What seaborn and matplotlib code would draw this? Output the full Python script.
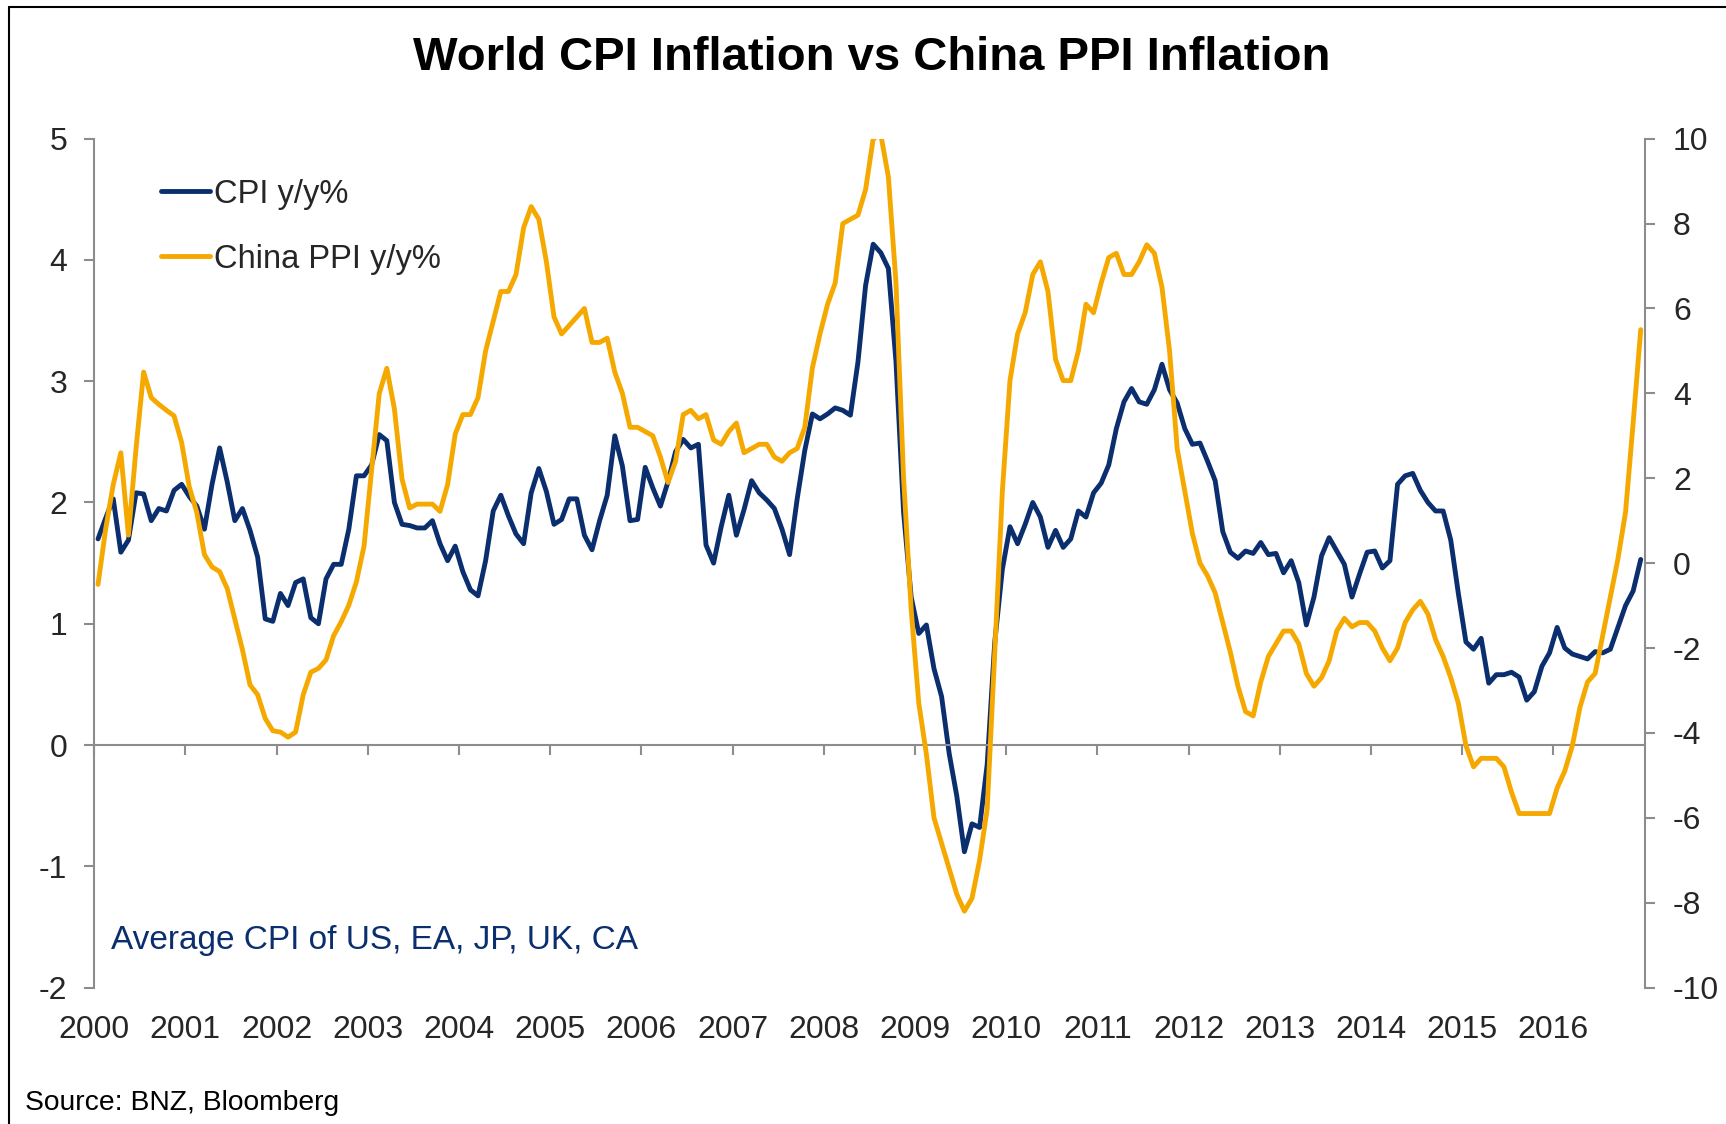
import numpy as np
import pandas as pd
import seaborn as sns
import matplotlib.pyplot as plt
from matplotlib.lines import Line2D

# monthly data, Jan 2000 - Dec 2016
years = [str(y) for y in range(2000, 2017)]

cpi = [
    1.70, 1.87, 2.03, 1.59, 1.69, 2.08, 2.07, 1.85, 1.95, 1.93, 2.10, 2.15,  # 2000
    2.05, 1.97, 1.78, 2.15, 2.45, 2.17, 1.85, 1.95, 1.77, 1.55, 1.04, 1.02,  # 2001
    1.25, 1.15, 1.34, 1.37, 1.05, 1.00, 1.37, 1.49, 1.49, 1.78, 2.22, 2.22,  # 2002
    2.31, 2.56, 2.51, 2.00, 1.82, 1.81, 1.79, 1.79, 1.85, 1.66, 1.52, 1.64,  # 2003
    1.43, 1.28, 1.23, 1.52, 1.93, 2.06, 1.89, 1.74, 1.66, 2.08, 2.28, 2.09,  # 2004
    1.82, 1.86, 2.03, 2.03, 1.73, 1.61, 1.85, 2.06, 2.55, 2.30, 1.85, 1.86,  # 2005
    2.29, 2.12, 1.97, 2.17, 2.42, 2.52, 2.45, 2.48, 1.65, 1.50, 1.80, 2.06,  # 2006
    1.73, 1.94, 2.18, 2.08, 2.02, 1.95, 1.78, 1.57, 2.03, 2.43, 2.73, 2.69,  # 2007
    2.73, 2.78, 2.76, 2.72, 3.16, 3.79, 4.13, 4.06, 3.93, 3.16, 1.92, 1.22,  # 2008
    0.92, 0.99, 0.63, 0.40, -0.07, -0.42, -0.88, -0.65, -0.68, -0.16, 0.85, 1.45,  # 2009
    1.80, 1.66, 1.82, 2.00, 1.88, 1.63, 1.77, 1.63, 1.70, 1.93, 1.88, 2.08,  # 2010
    2.16, 2.31, 2.61, 2.83, 2.94, 2.83, 2.81, 2.93, 3.14, 2.93, 2.82, 2.61,  # 2011
    2.48, 2.49, 2.34, 2.18, 1.76, 1.59, 1.54, 1.60, 1.58, 1.67, 1.57, 1.58,  # 2012
    1.42, 1.52, 1.34, 0.99, 1.22, 1.56, 1.71, 1.60, 1.49, 1.22, 1.41, 1.59,  # 2013
    1.60, 1.46, 1.52, 2.15, 2.22, 2.24, 2.10, 2.00, 1.93, 1.93, 1.69, 1.25,  # 2014
    0.85, 0.79, 0.88, 0.51, 0.58, 0.58, 0.60, 0.56, 0.37, 0.44, 0.65, 0.76,  # 2015
    0.97, 0.80, 0.75, 0.73, 0.71, 0.77, 0.76, 0.79, 0.97, 1.15, 1.27, 1.53,  # 2016
]

ppi = [
    -0.5, 0.8, 1.85, 2.6, 0.66, 2.7, 4.5, 3.9, 3.74, 3.6, 3.47, 2.84,  # 2000
    1.8, 1.19, 0.2, -0.09, -0.2, -0.6, -1.32, -2.04, -2.87, -3.1, -3.66, -3.95,  # 2001
    -3.98, -4.1, -3.98, -3.1, -2.57, -2.48, -2.28, -1.71, -1.38, -0.99, -0.44, 0.4,  # 2002
    2.2, 3.99, 4.59, 3.63, 1.98, 1.3, 1.39, 1.39, 1.39, 1.22, 1.85, 3.04,  # 2003
    3.5, 3.5, 3.9, 5.0, 5.7, 6.4, 6.4, 6.8, 7.9, 8.4, 8.1, 7.1,  # 2004
    5.8, 5.4, 5.6, 5.8, 6.0, 5.2, 5.2, 5.3, 4.5, 4.0, 3.2, 3.2,  # 2005
    3.1, 3.0, 2.5, 1.9, 2.4, 3.5, 3.6, 3.4, 3.5, 2.9, 2.8, 3.1,  # 2006
    3.3, 2.6, 2.7, 2.8, 2.8, 2.5, 2.4, 2.6, 2.7, 3.2, 4.6, 5.4,  # 2007
    6.1, 6.6, 8.0, 8.1, 8.2, 8.8, 10.0, 10.1, 9.1, 6.6, 2.0, -1.1,  # 2008
    -3.3, -4.5, -6.0, -6.6, -7.2, -7.8, -8.2, -7.9, -7.0, -5.8, -2.1, 1.7,  # 2009
    4.3, 5.4, 5.9, 6.8, 7.1, 6.4, 4.8, 4.3, 4.3, 5.0, 6.1, 5.9,  # 2010
    6.6, 7.2, 7.3, 6.8, 6.8, 7.1, 7.5, 7.3, 6.5, 5.0, 2.7, 1.7,  # 2011
    0.7, 0.0, -0.3, -0.7, -1.4, -2.1, -2.9, -3.5, -3.6, -2.8, -2.2, -1.9,  # 2012
    -1.6, -1.6, -1.9, -2.6, -2.9, -2.7, -2.3, -1.6, -1.3, -1.5, -1.4, -1.4,  # 2013
    -1.6, -2.0, -2.3, -2.0, -1.4, -1.1, -0.9, -1.2, -1.8, -2.2, -2.7, -3.3,  # 2014
    -4.3, -4.8, -4.6, -4.6, -4.6, -4.8, -5.4, -5.9, -5.9, -5.9, -5.9, -5.9,  # 2015
    -5.3, -4.9, -4.3, -3.4, -2.8, -2.6, -1.7, -0.8, 0.1, 1.2, 3.3, 5.5,  # 2016
]

NAVY = "#0b2f6e"
GOLD = "#f5a900"
GREY = "#8c8c8c"

# category axis: each month sits in the middle of its slot
df = pd.DataFrame({"month": np.arange(len(cpi)) + 0.5, "cpi": cpi, "ppi": ppi})

sns.set_theme(style="white")
plt.rcParams["font.family"] = ["Liberation Sans", "DejaVu Sans"]
plt.rcParams["axes.unicode_minus"] = False

fig = plt.figure(figsize=(17.26, 11.24), dpi=100)
ax = fig.add_axes([0.0546, 0.1214, 0.8982, 0.7552])
ax2 = ax.twinx()

sns.lineplot(data=df, x="month", y="cpi", ax=ax, color=NAVY, lw=3.5, legend=False)
sns.lineplot(data=df, x="month", y="ppi", ax=ax2, color=GOLD, lw=3.5, legend=False)

ax.set_xlim(0, len(cpi))
ax.set_ylim(-2, 5)
ax2.set_ylim(-10, 10)
ax.set_yticks(range(-2, 6))
ax2.set_yticks(range(-10, 11, 2))
ax.set_xlabel("")
ax.set_ylabel("")
ax2.set_ylabel("")

# zero line carries the year ticks
ax.spines["bottom"].set_position(("data", 0))
ax.set_xticks(np.arange(0, len(cpi), 12))
ax.tick_params(axis="x", direction="out", length=7, width=1.5, color=GREY, labelbottom=False, bottom=True)

# year labels along the bottom
sec = ax.secondary_xaxis("bottom")
sec.set_xticks(np.arange(0, len(cpi), 12), years)
sec.tick_params(length=0, pad=20, labelsize=23)
sec.spines["bottom"].set_visible(False)

for a in (ax, ax2):
    a.spines["top"].set_visible(False)
    for s in ("left", "right", "bottom"):
        a.spines[s].set_color(GREY)
        a.spines[s].set_linewidth(1.5)
ax2.spines["bottom"].set_visible(False)
ax.spines["right"].set_visible(False)
ax2.spines["left"].set_visible(False)

ax.tick_params(axis="y", left=True, direction="out", length=7.5, width=1.5, color=GREY, pad=12, labelsize=23)
ax2.tick_params(axis="y", right=True, direction="out", length=7.5, width=1.5, color=GREY, pad=13, labelsize=23)

handles = [Line2D([], [], color=NAVY, lw=3.5), Line2D([], [], color=GOLD, lw=3.5)]
ax2.legend(handles, ["CPI y/y%", "China PPI y/y%"], loc="upper left", bbox_to_anchor=(0.043, 0.953),
           frameon=False, fontsize=23.5, handlelength=1.5, handletextpad=0.12,
           labelspacing=1.05, borderpad=0, borderaxespad=0)

ax.text(0.0108, 0.056, "Average CPI of US, EA, JP, UK, CA", transform=ax.transAxes,
        color=NAVY, fontsize=24, va="center", ha="left")

fig.text(872 / 1726, 1 - 58 / 1124, "World CPI Inflation vs China PPI Inflation",
         ha="center", va="center", fontsize=34, fontweight="bold", color="black")
fig.text(25 / 1726, 1 - 1103 / 1124, "Source: BNZ, Bloomberg", ha="left", va="center",
         fontsize=20.3, color="black")

# frame edges of the original picture
fig.add_artist(Line2D([9 / 1726, 1], [1 - 7 / 1124, 1 - 7 / 1124], transform=fig.transFigure, color="black", lw=1.5))
fig.add_artist(Line2D([9 / 1726, 9 / 1726], [0, 1 - 7 / 1124], transform=fig.transFigure, color="black", lw=1.5))

fig.savefig("out.png", dpi=100)
